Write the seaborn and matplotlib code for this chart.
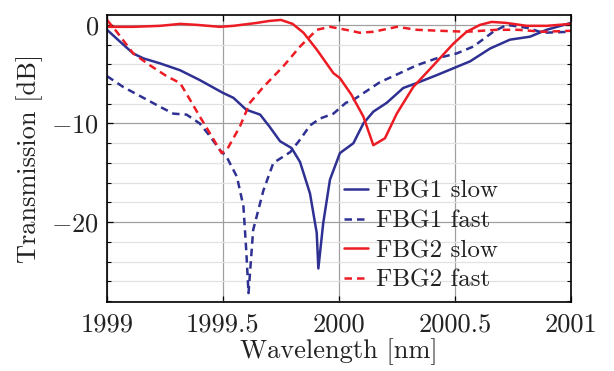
import numpy as np
import pandas as pd
import matplotlib
matplotlib.use("Agg")
import matplotlib.pyplot as plt
import seaborn as sns
from matplotlib.ticker import MultipleLocator

# ---- data ----
fbg1_slow_x = [1999.0, 1999.056, 1999.113, 1999.157, 1999.228, 1999.315, 1999.40, 1999.50, 1999.545,
               1999.60, 1999.66, 1999.70, 1999.746, 1999.796, 1999.832, 1999.875, 1999.904, 1999.911,
               1999.932, 1999.961, 2000.004, 2000.062, 2000.105, 2000.148, 2000.206, 2000.277, 2000.335,
               2000.421, 2000.493, 2000.565, 2000.651, 2000.737, 2000.823, 2000.895, 2001.0]
fbg1_slow_y = [-0.5, -1.7, -2.9, -3.4, -3.9, -4.6, -5.6, -6.9, -7.4,
               -8.6, -9.1, -10.3, -11.8, -12.5, -13.9, -17.1, -21.1, -24.7,
               -20.1, -15.7, -13.0, -12.0, -10.0, -8.8, -7.9, -6.4, -5.9,
               -5.1, -4.4, -3.7, -2.4, -1.5, -1.2, -0.5, 0.2]

fbg1_fast_x = [1999.0, 1999.07, 1999.157, 1999.228, 1999.286, 1999.343, 1999.40, 1999.444, 1999.487,
               1999.516, 1999.56, 1999.588, 1999.60, 1999.61, 1999.63, 1999.674, 1999.717, 1999.79,
               1999.83, 1999.875, 1999.918, 1999.976, 2000.03, 2000.062, 2000.177, 2000.234, 2000.335,
               2000.42, 2000.507, 2000.579, 2000.665, 2000.723, 2000.81, 2000.88, 2001.0]
fbg1_fast_y = [-5.2, -6.3, -7.4, -8.3, -9.0, -9.1, -10.0, -11.3, -12.7,
               -13.4, -15.4, -18.4, -22.8, -27.2, -20.8, -16.8, -14.0, -12.9,
               -11.7, -10.2, -9.5, -9.0, -7.9, -7.6, -5.8, -5.2, -4.1,
               -3.4, -2.9, -2.2, -0.7, 0.0, -0.3, -0.8, -0.7]

fbg2_slow_x = [1999.0, 1999.113, 1999.228, 1999.315, 1999.387, 1999.487, 1999.545, 1999.646, 1999.70,
               1999.75, 1999.80, 1999.847, 1999.904, 1999.976, 2000.004, 2000.054, 2000.105, 2000.148,
               2000.198, 2000.249, 2000.32, 2000.407, 2000.493, 2000.55, 2000.608, 2000.658, 2000.72,
               2000.81, 2000.895, 2001.0]
fbg2_slow_y = [-0.2, -0.2, -0.1, 0.1, 0.0, -0.2, -0.1, 0.2, 0.4,
               0.5, 0.1, -0.8, -2.5, -4.9, -5.4, -7.1, -9.3, -12.2,
               -11.5, -9.0, -6.3, -4.1, -1.9, -0.7, 0.0, 0.3, 0.2,
               -0.1, -0.1, 0.1]

fbg2_fast_x = [1999.0, 1999.042, 1999.113, 1999.185, 1999.257, 1999.315, 1999.358, 1999.40, 1999.444,
               1999.494, 1999.516, 1999.573, 1999.616, 1999.674, 1999.76, 1999.832, 1999.904, 1999.961,
               2000.03, 2000.09, 2000.148, 2000.25, 2000.335, 2000.435, 2000.55, 2000.68, 2000.77,
               2000.88, 2001.0]
fbg2_fast_y = [0.5, -0.7, -2.9, -4.1, -5.2, -5.9, -7.6, -9.3, -11.0,
               -13.0, -12.7, -10.3, -7.9, -6.3, -4.2, -2.2, -0.5, -0.2,
               -0.5, -0.8, -0.7, -0.2, -0.5, -0.6, -0.7, -0.5, -0.5,
               -0.7, -0.6]

labels = ["FBG1 slow", "FBG1 fast", "FBG2 slow", "FBG2 fast"]
x_ticks = [1999, 1999.5, 2000, 2000.5, 2001]
x_tick_labels = ["1999", "1999.5", "2000", "2000.5", "2001"]
y_ticks = [0, -10, -20]

BLUE = "#2E3192"
RED = "#ED1C24"
TXT = "#222222"

sns.set_theme(style="white")
plt.rcParams["font.family"] = ["cmr10", "DejaVu Serif"]
plt.rcParams["mathtext.fontset"] = "cm"
plt.rcParams["axes.formatter.use_mathtext"] = True
plt.rcParams["axes.unicode_minus"] = True

fig = plt.figure(figsize=(6.14, 3.71), dpi=100)
ax = fig.add_axes([107 / 614, 1 - 302 / 371, (571 - 107) / 614, (302 - 15) / 371])

series = [
    (fbg1_slow_x, fbg1_slow_y, labels[0], BLUE, "-"),
    (fbg1_fast_x, fbg1_fast_y, labels[1], BLUE, (0, (3, 2))),
    (fbg2_slow_x, fbg2_slow_y, labels[2], RED, "-"),
    (fbg2_fast_x, fbg2_fast_y, labels[3], RED, (0, (3, 2))),
]
for xs, ys, lab, col, ls in series:
    df = pd.DataFrame({"x": xs, "y": ys})
    sns.lineplot(data=df, x="x", y="y", ax=ax, color=col, linestyle=ls,
                 linewidth=1.8, label=lab, sort=False, estimator=None)

ax.set_xlim(1999, 2001)
ax.set_ylim(-28.1, 1.0)
ax.set_xticks(x_ticks)
ax.set_xticklabels(x_tick_labels)
ax.set_yticks(y_ticks)
ax.yaxis.set_minor_locator(MultipleLocator(2))

ax.grid(which="major", axis="x", color="#a0a0a0", linewidth=0.9)
ax.grid(which="major", axis="y", color="#a0a0a0", linewidth=0.9)
ax.grid(which="minor", axis="y", color="#e2e2e2", linewidth=0.9)
ax.set_axisbelow(True)

for sp in ax.spines.values():
    sp.set_color("black")
    sp.set_linewidth(1.2)

ax.tick_params(which="both", direction="in", top=True, right=True, bottom=True, left=True,
               colors="black", labelsize=19, labelcolor=TXT)
ax.tick_params(which="major", length=4, width=0.9)
ax.tick_params(which="minor", length=3, width=0.8)
ax.tick_params(axis="x", pad=8)
ax.tick_params(axis="y", pad=6)

ax.set_xlabel("Wavelength [nm]", fontsize=19, color=TXT, labelpad=1)
ax.set_ylabel("Transmission [dB]", fontsize=19, color=TXT, labelpad=6)

leg = ax.legend(loc="lower left", bbox_to_anchor=(0.489, 0.0), frameon=False, fontsize=18,
                handlelength=0.95, handletextpad=0.3, labelspacing=0.28, borderaxespad=0.32,
                borderpad=0.1)
for t in leg.get_texts():
    t.set_color(TXT)

fig.savefig("out.png", dpi=100)
